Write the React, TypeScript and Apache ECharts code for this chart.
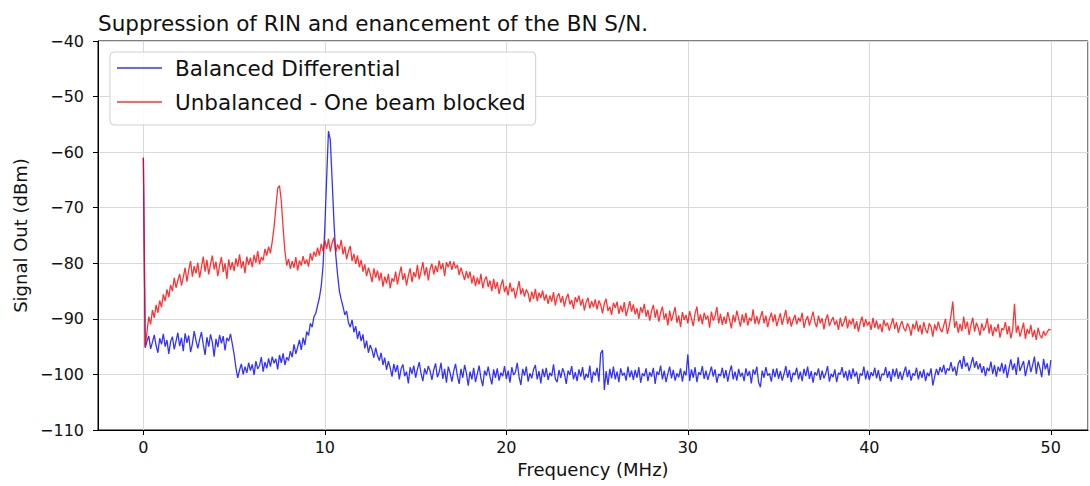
import React, { useEffect, useRef } from "react";
import * as echarts from "echarts";

const TITLE = "Suppression of RIN and enancement of the BN S/N.";
const X_NAME = "Frequency (MHz)";
const Y_NAME = "Signal Out (dBm)";
const SERIES_NAMES = ["Balanced Differential", "Unbalanced - One beam blocked"];
const FREQ_STEP = 0.1; // MHz between samples, starting at 0
const X_RANGE = [-2.5, 52.05];
const Y_TICKS = [-110, -100, -90, -80, -70, -60, -50, -40];

// Balanced differential (blue), one value every 0.1 MHz from 0 to 50 MHz (one row = 1 MHz)
const BALANCED = [
  -61.0, -95.2, -94.0, -93.1, -95.4, -94.2, -92.9, -94.8, -96.1, -93.5,
  -94.6, -92.7, -95.0, -93.8, -96.3, -94.1, -93.2, -95.5, -94.0, -92.5,
  -94.9, -93.4, -95.8, -92.6, -94.3, -93.0, -96.0, -94.5, -92.2, -93.9,
  -95.3, -93.7, -92.4, -94.6, -96.5, -93.3, -95.0, -92.8, -94.2, -96.8,
  -93.6, -95.1, -92.9, -94.4, -93.1, -95.7, -93.4, -94.0, -92.7, -94.5,
  -96.4, -98.8, -100.6, -99.2, -98.1, -100.0, -98.6, -99.7, -97.9, -99.3,
  -98.2, -100.1, -97.6, -99.0, -98.4, -96.9, -99.5, -97.8, -98.9, -97.1,
  -98.6, -96.8, -98.0, -97.2, -99.1, -96.5, -97.9, -96.2, -98.3, -96.9,
  -97.5, -95.8, -96.9, -94.6, -96.3, -95.1, -93.8, -95.6, -93.4, -94.7,
  -92.3, -93.0, -90.8, -91.5, -89.6, -89.0, -87.6, -86.2, -84.1, -80.5,
  -73.5, -64.5, -56.2, -57.8, -65.0, -72.5, -78.5, -82.0, -85.0, -86.5,
  -87.8, -89.3, -88.6, -90.7, -91.5, -90.2, -92.4, -91.3, -93.6, -92.2,
  -94.0, -92.8, -95.3, -93.9, -96.1, -94.7, -95.6, -97.0, -95.2, -96.6,
  -97.5, -96.1, -98.3, -97.0, -99.2, -97.6, -98.8, -100.4, -98.1, -99.6,
  -98.3, -100.9, -99.0, -98.2, -100.3, -99.5, -101.6, -98.7, -99.9, -98.4,
  -100.6, -99.1, -97.8, -99.8, -101.2, -98.9, -100.0, -98.5, -99.4, -101.0,
  -99.2, -98.0, -100.5, -99.6, -97.9, -100.8, -99.0, -101.5, -98.6, -99.7,
  -101.3, -99.4, -98.1, -100.2, -101.7, -99.0, -100.6, -98.3, -99.8, -102.0,
  -99.5, -100.9, -98.8, -101.4, -99.9, -98.4, -100.7, -102.1, -99.3, -100.2,
  -98.6, -100.4, -101.8, -99.1, -100.6, -98.9, -101.1, -99.7, -100.3, -98.5,
  -100.8, -99.3, -101.5, -98.7, -100.1, -99.6, -97.9, -100.4, -101.9, -99.0,
  -100.2, -98.6, -101.3, -99.8, -100.7, -99.1, -98.3, -100.9, -99.4, -101.6,
  -99.0, -100.5, -98.8, -101.0, -99.7, -100.3, -98.2, -100.8, -101.4, -99.2,
  -100.6, -98.9, -99.8, -101.7, -99.3, -100.1, -98.5, -100.9, -99.6, -101.2,
  -99.1, -100.4, -98.7, -101.0, -99.9, -100.6, -98.4, -101.5, -99.5, -100.2,
  -98.8, -101.3, -96.2, -95.6, -102.8, -99.4, -101.9, -99.0, -100.7, -98.6,
  -100.9, -99.5, -101.4, -98.9, -100.2, -99.7, -101.1, -98.6, -100.5, -99.3,
  -101.0, -99.2, -100.6, -98.7, -101.5, -99.8, -100.3, -98.9, -101.2, -99.6,
  -100.4, -98.8, -101.7, -99.5, -100.1, -98.4, -100.9, -99.3, -101.4, -99.9,
  -98.6, -100.7, -99.2, -101.1, -99.8, -100.5, -98.9, -101.3, -99.4, -100.2,
  -96.4, -101.2, -99.1, -100.6, -98.7, -101.4, -99.6, -100.1, -98.5, -100.8,
  -99.3, -101.0, -99.8, -98.6, -100.4, -99.1, -101.5, -99.9, -100.3, -98.8,
  -100.7, -99.2, -101.3, -99.6, -98.4, -100.9, -99.5, -101.1, -99.0, -100.4,
  -99.7, -101.2, -98.9, -100.3, -99.4, -101.6, -99.1, -100.0, -98.6, -101.4,
  -102.3, -99.3, -100.6, -98.7, -100.2, -99.8, -101.3, -99.0, -100.5, -98.9,
  -100.8, -99.4, -101.1, -99.9, -98.5, -100.6, -99.2, -101.4, -99.7, -100.1,
  -98.8, -100.9, -99.5, -101.2, -99.0, -100.3, -98.6, -100.8, -99.4, -101.5,
  -99.6, -100.2, -98.9, -101.0, -99.3, -100.7, -99.8, -98.5, -101.3, -99.9,
  -100.5, -99.1, -101.4, -99.7, -100.0, -98.7, -100.6, -99.4, -101.1, -99.2,
  -100.8, -98.9, -100.4, -99.5, -101.7, -99.8, -100.2, -98.6, -100.9, -99.3,
  -101.0, -99.6, -100.3, -98.8, -100.7, -99.2, -101.2, -99.9, -100.1, -98.7,
  -100.6, -99.4, -101.3, -99.0, -100.4, -98.9, -100.8, -99.5, -101.0, -99.7,
  -98.6, -100.5, -99.2, -101.1, -99.8, -100.2, -98.8, -100.9, -99.4, -100.6,
  -99.1, -101.2, -99.7, -100.3, -98.9, -102.0, -100.4, -99.0, -100.1, -98.7,
  -99.6, -98.3, -100.0, -98.9, -99.3, -97.8, -99.5, -98.6, -100.2, -98.1,
  -97.4, -99.0, -96.7, -98.6, -97.9, -99.4, -98.2, -96.9, -98.8, -97.6,
  -99.1, -98.0, -99.7, -98.5, -100.3, -98.8, -99.4, -97.7, -99.9, -98.3,
  -100.4, -98.6, -99.5, -97.9, -99.8, -98.2, -100.6, -98.9, -97.3, -99.2,
  -98.0, -100.1, -96.9, -99.4, -98.5, -97.6, -100.3, -98.8, -97.4, -99.6,
  -98.3, -96.8, -99.9, -97.7, -98.9, -100.5, -97.2, -99.1, -98.0, -100.2,
  -97.4,
];

// Unbalanced, one beam blocked (red), one value every 0.1 MHz from 0 to 50 MHz (one row = 1 MHz)
const UNBALANCED = [
  -61.0, -95.0, -92.3, -89.6, -91.0, -88.4, -89.8, -87.5, -88.9, -86.7,
  -87.9, -85.6, -86.8, -84.7, -86.1, -83.9, -85.0, -82.6, -84.4, -83.1,
  -81.9, -84.0, -82.5, -80.8, -83.3, -81.2, -79.6, -82.4, -80.5, -81.8,
  -79.9, -82.6, -80.7, -78.8, -81.5, -79.4, -82.0, -80.2, -78.6, -81.1,
  -79.7, -82.3, -80.4, -78.9, -81.6, -80.0, -82.8, -79.3, -81.2, -79.8,
  -81.4, -79.1, -80.6, -78.4, -80.9, -79.6, -81.8, -78.8, -80.3, -79.0,
  -80.7, -78.5, -79.9, -77.8, -80.2, -78.9, -79.5, -77.4, -78.6, -77.0,
  -78.2, -76.1, -73.5, -70.0, -66.5, -66.0, -68.8, -73.6, -77.9, -80.4,
  -79.2, -81.0, -79.6, -80.8, -78.9, -81.3, -79.5, -80.4, -78.7, -80.1,
  -79.3, -80.6, -78.2, -79.5, -77.9, -78.8, -77.2, -78.6, -76.5, -77.8,
  -75.9, -77.4, -75.6, -77.9, -76.3, -75.4, -78.0, -76.6, -77.5, -75.8,
  -78.4, -77.0, -79.3, -77.8, -76.9, -79.6, -78.3, -80.1, -78.6, -80.7,
  -79.4, -81.5, -80.2, -82.3, -80.8, -81.9, -83.4, -80.9, -82.6, -81.3,
  -83.1, -81.7, -84.2, -82.4, -83.6, -81.9, -84.5, -82.7, -83.3, -81.5,
  -83.8, -82.1, -80.6, -83.0, -81.8, -84.0, -82.2, -80.9, -83.4, -81.6,
  -82.5, -80.3, -82.9, -81.4, -79.8, -82.2, -80.7, -83.1, -81.0, -80.1,
  -82.0, -80.4, -81.6, -79.5, -81.1, -80.0, -82.3, -79.8, -80.7, -79.6,
  -81.2, -79.7, -80.9, -80.3, -82.1, -80.8, -81.9, -83.0, -81.4, -82.7,
  -81.5, -83.6, -82.2, -84.1, -82.6, -83.8, -81.9, -84.5, -83.0, -82.4,
  -84.3, -83.1, -85.0, -82.8, -84.6, -83.4, -85.5, -84.0, -82.9, -85.2,
  -84.1, -85.8, -83.5, -85.1, -84.4, -86.3, -84.8, -83.2, -85.6, -84.5,
  -86.0, -84.7, -85.4, -87.0, -85.1, -86.4, -84.6, -86.8, -85.3, -86.2,
  -84.9, -86.7, -85.6, -87.3, -85.8, -86.9, -85.2, -87.6, -86.0, -85.4,
  -87.1, -85.9, -87.8, -86.3, -85.5, -87.4, -86.6, -88.2, -86.1, -87.0,
  -85.8, -87.6, -86.4, -88.5, -87.0, -86.2, -88.1, -86.8, -87.9, -86.5,
  -88.3, -86.7, -87.5, -89.0, -87.2, -86.4, -88.6, -87.8, -89.3, -87.1,
  -88.0, -86.9, -89.1, -87.6, -88.8, -87.0, -89.5, -88.2, -86.8, -88.7,
  -87.4, -89.2, -88.1, -90.0, -87.9, -88.9, -87.3, -89.6, -88.4, -90.3,
  -88.6, -87.5, -89.8, -88.3, -90.5, -88.9, -87.8, -90.1, -89.0, -91.2,
  -88.5, -90.4, -89.1, -87.9, -90.7, -89.4, -91.5, -88.8, -90.2, -89.3,
  -90.8, -88.6, -89.9, -91.3, -89.0, -87.8, -90.5, -89.2, -91.0, -88.9,
  -90.1, -89.4, -91.6, -88.7, -90.3, -89.5, -87.9, -90.8, -89.1, -91.1,
  -89.6, -90.9, -88.8, -90.2, -91.7, -89.3, -90.6, -88.5, -90.0, -91.4,
  -89.2, -90.7, -88.9, -91.2, -89.8, -90.4, -88.3, -90.9, -89.5, -91.0,
  -89.7, -88.6, -90.8, -89.4, -91.5, -90.0, -88.9, -90.6, -89.2, -91.3,
  -90.1, -89.0, -91.1, -89.7, -88.4, -90.9, -89.6, -91.4, -90.2, -89.3,
  -91.0, -89.8, -90.5, -88.9, -91.6, -90.3, -89.5, -91.2, -90.0, -88.7,
  -90.6, -91.5, -89.4, -90.8, -89.9, -91.9, -90.1, -89.2, -91.3, -90.4,
  -89.7, -91.1, -90.3, -92.0, -89.8, -91.4, -90.6, -89.5, -91.7, -90.2,
  -91.0, -89.9, -91.8, -90.4, -92.3, -90.7, -89.6, -91.5, -90.1, -91.2,
  -90.5, -92.0, -89.8, -91.6, -90.3, -91.9, -90.9, -92.4, -90.2, -91.3,
  -90.7, -92.1, -91.0, -89.9, -91.8, -90.6, -92.5, -91.2, -90.4, -91.7,
  -92.2, -90.8, -91.5, -93.0, -90.9, -91.9, -90.3, -92.3, -91.1, -92.8,
  -90.6, -91.9, -92.6, -90.8, -91.4, -93.2, -91.0, -92.1, -90.5, -91.8,
  -92.4, -91.2, -90.0, -92.7, -91.3, -89.4, -86.9, -91.6, -90.4, -92.5,
  -90.9, -92.2, -89.6, -91.8, -90.5, -92.9, -91.1, -89.8, -92.3, -90.7,
  -91.6, -93.0, -90.8, -92.1, -91.4, -89.9, -92.6, -91.0, -93.1, -91.5,
  -92.3, -90.9, -93.4, -91.7, -92.0, -90.6, -92.8, -91.3, -93.5, -91.9,
  -87.3, -92.5, -91.2, -93.2, -92.0, -90.7, -93.6, -91.8, -92.7, -91.1,
  -93.3, -92.0, -93.8, -91.6, -92.9, -93.5, -92.2, -93.0, -92.4, -91.9,
  -92.0,
];

const FONT = "DejaVu Sans";
const minus = (v: number | string) => String(v).replace("-", "\u2212");

function toPoints(values: number[]) {
  return values.map((v, i) => [Math.round(i * FREQ_STEP * 100) / 100, v]);
}

export default function App() {
  const ref = useRef<HTMLDivElement>(null);

  useEffect(() => {
    if (!ref.current) return;
    const chart = echarts.init(ref.current, null, { renderer: "svg" });
    const axisLine = { show: true, onZero: false, lineStyle: { color: "#000", width: 1 } };
    const axisTick = { show: true, inside: false, length: 5, lineStyle: { color: "#000", width: 1 } };
    const splitLine = { show: true, lineStyle: { color: "#d9d9d9", width: 1 } };
    chart.setOption({
      animation: false,
      backgroundColor: "#fff",
      textStyle: { fontFamily: FONT },
      title: {
        text: TITLE,
        left: 98,
        top: 12,
        padding: 0,
        textStyle: { fontFamily: FONT, fontSize: 21.5, fontWeight: "normal", color: "#111" },
      },
      legend: {
        orient: "vertical",
        left: 110,
        top: 52,
        padding: [5, 10, 12, 7],
        itemWidth: 45,
        itemHeight: 1.5,
        itemGap: 12,
        icon: "rect",
        backgroundColor: "rgba(255,255,255,0.85)",
        borderColor: "#d0d0d0",
        borderWidth: 1,
        borderRadius: 4,
        textStyle: { fontFamily: FONT, fontSize: 21.5, color: "#111", padding: [0, 0, 0, 8] },
        data: SERIES_NAMES,
      },
      grid: {
        left: 98,
        right: 2,
        top: 41,
        bottom: 56,
        show: true,
        borderColor: "#000",
        borderWidth: 1,
        backgroundColor: "transparent",
      },
      xAxis: {
        type: "value",
        min: X_RANGE[0],
        max: X_RANGE[1],
        splitNumber: 5,
        minInterval: 10,
        maxInterval: 10,
        name: X_NAME,
        nameLocation: "middle",
        nameGap: 30,
        nameTextStyle: { fontFamily: FONT, fontSize: 18, color: "#111" },
        axisLine,
        axisTick,
        splitLine,
        axisLabel: {
          showMinLabel: false,
          showMaxLabel: false,
          margin: 9,
          fontFamily: FONT,
          fontSize: 16,
          color: "#111",
          formatter: (v: number) => minus(v),
        },
      },
      yAxis: {
        type: "value",
        min: Y_TICKS[0],
        max: Y_TICKS[Y_TICKS.length - 1],
        interval: 10,
        name: Y_NAME,
        nameLocation: "middle",
        nameGap: 67,
        nameTextStyle: { fontFamily: FONT, fontSize: 18, color: "#111" },
        axisLine,
        axisTick,
        splitLine,
        axisLabel: {
          margin: 14,
          fontFamily: FONT,
          fontSize: 16,
          color: "#111",
          formatter: (v: number) => minus(v),
        },
      },
      series: [
        {
          name: SERIES_NAMES[0],
          type: "line",
          data: toPoints(BALANCED),
          symbol: "none",
          lineStyle: { color: "rgba(0,0,255,0.8)", width: 1.3 },
          itemStyle: { color: "rgba(0,0,255,0.8)" },
          z: 2,
        },
        {
          name: SERIES_NAMES[1],
          type: "line",
          data: toPoints(UNBALANCED),
          symbol: "none",
          lineStyle: { color: "rgba(255,0,0,0.8)", width: 1.3 },
          itemStyle: { color: "rgba(255,0,0,0.8)" },
          z: 3,
        },
      ],
    });
    return () => chart.dispose();
  }, []);

  return (
    <div
      ref={ref}
      style={{ position: "fixed", left: 0, top: 0, width: 1090, height: 486 }}
    />
  );
}
